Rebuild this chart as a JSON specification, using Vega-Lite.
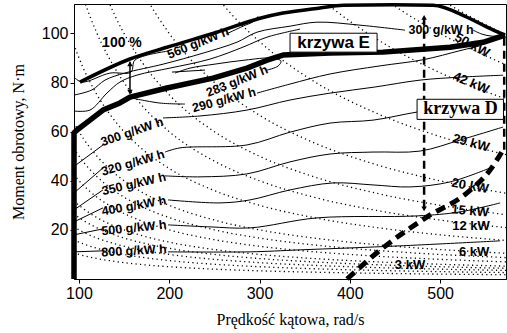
{
"$schema":"https://vega.github.io/schema/vega-lite/v6.json",
"width":432,"height":275,
"autosize":{"type":"none"},
"padding":{"left":74,"top":4,"right":1,"bottom":54},
"config":{"view":{"stroke":"black","strokeWidth":1},
"axis":{"grid":false,"domainColor":"black","tickColor":"black","labelColor":"black","titleColor":"black","labelFont":"Liberation Sans","labelFontSize":16,"titleFont":"Liberation Serif","titleFontSize":16,"titleFontWeight":"normal","tickSize":4}},
"encoding":{
"x":{"field":"w","type":"quantitative","scale":{"domain":[94.5,573],"nice":false,"zero":false},"axis":{"values":[100,200,300,400,500],"title":"Prędkość kątowa, rad/s","titlePadding":10,"labelPadding":2}},
"y":{"field":"t","type":"quantitative","scale":{"domain":[0,112],"nice":false,"zero":false},"axis":{"values":[20,40,60,80,100],"title":"Moment obrotowy, N·m","titlePadding":15,"labelPadding":2}}
},
"layer":[
{"data":{"values":[
{"p":1,"w":94,"t":10.64},{"p":1,"w":105,"t":9.52},{"p":1,"w":120,"t":8.33},{"p":1,"w":140,"t":7.14},{"p":1,"w":170,"t":5.88},{"p":1,"w":200,"t":5},{"p":1,"w":250,"t":4},{"p":1,"w":300,"t":3.33},{"p":1,"w":360,"t":2.78},{"p":1,"w":430,"t":2.33},{"p":1,"w":500,"t":2},{"p":1,"w":573,"t":1.75},
{"p":1.5,"w":94,"t":15.96},{"p":1.5,"w":105,"t":14.29},{"p":1.5,"w":120,"t":12.5},{"p":1.5,"w":140,"t":10.71},{"p":1.5,"w":170,"t":8.82},{"p":1.5,"w":200,"t":7.5},{"p":1.5,"w":250,"t":6},{"p":1.5,"w":300,"t":5},{"p":1.5,"w":360,"t":4.17},{"p":1.5,"w":430,"t":3.49},{"p":1.5,"w":500,"t":3},{"p":1.5,"w":573,"t":2.62},
{"p":2,"w":94,"t":21.28},{"p":2,"w":105,"t":19.05},{"p":2,"w":120,"t":16.67},{"p":2,"w":140,"t":14.29},{"p":2,"w":170,"t":11.76},{"p":2,"w":200,"t":10},{"p":2,"w":250,"t":8},{"p":2,"w":300,"t":6.67},{"p":2,"w":360,"t":5.56},{"p":2,"w":430,"t":4.65},{"p":2,"w":500,"t":4},{"p":2,"w":573,"t":3.49},
{"p":2.5,"w":94,"t":26.6},{"p":2.5,"w":105,"t":23.81},{"p":2.5,"w":120,"t":20.83},{"p":2.5,"w":140,"t":17.86},{"p":2.5,"w":170,"t":14.71},{"p":2.5,"w":200,"t":12.5},{"p":2.5,"w":250,"t":10},{"p":2.5,"w":300,"t":8.33},{"p":2.5,"w":360,"t":6.94},{"p":2.5,"w":430,"t":5.81},{"p":2.5,"w":500,"t":5},{"p":2.5,"w":573,"t":4.36},
{"p":3,"w":94,"t":31.91},{"p":3,"w":105,"t":28.57},{"p":3,"w":120,"t":25},{"p":3,"w":140,"t":21.43},{"p":3,"w":170,"t":17.65},{"p":3,"w":200,"t":15},{"p":3,"w":250,"t":12},{"p":3,"w":300,"t":10},{"p":3,"w":360,"t":8.33},{"p":3,"w":430,"t":6.98},{"p":3,"w":500,"t":6},{"p":3,"w":573,"t":5.24},
{"p":4,"w":94,"t":42.55},{"p":4,"w":105,"t":38.1},{"p":4,"w":120,"t":33.33},{"p":4,"w":140,"t":28.57},{"p":4,"w":170,"t":23.53},{"p":4,"w":200,"t":20},{"p":4,"w":250,"t":16},{"p":4,"w":300,"t":13.33},{"p":4,"w":360,"t":11.11},{"p":4,"w":430,"t":9.3},{"p":4,"w":500,"t":8},{"p":4,"w":573,"t":6.98},
{"p":5,"w":94,"t":53.19},{"p":5,"w":105,"t":47.62},{"p":5,"w":120,"t":41.67},{"p":5,"w":140,"t":35.71},{"p":5,"w":170,"t":29.41},{"p":5,"w":200,"t":25},{"p":5,"w":250,"t":20},{"p":5,"w":300,"t":16.67},{"p":5,"w":360,"t":13.89},{"p":5,"w":430,"t":11.63},{"p":5,"w":500,"t":10},{"p":5,"w":573,"t":8.73},
{"p":6,"w":94,"t":63.83},{"p":6,"w":105,"t":57.14},{"p":6,"w":120,"t":50},{"p":6,"w":140,"t":42.86},{"p":6,"w":170,"t":35.29},{"p":6,"w":200,"t":30},{"p":6,"w":250,"t":24},{"p":6,"w":300,"t":20},{"p":6,"w":360,"t":16.67},{"p":6,"w":430,"t":13.95},{"p":6,"w":500,"t":12},{"p":6,"w":573,"t":10.47},
{"p":9,"w":94,"t":95.74},{"p":9,"w":105,"t":85.71},{"p":9,"w":120,"t":75},{"p":9,"w":140,"t":64.29},{"p":9,"w":170,"t":52.94},{"p":9,"w":200,"t":45},{"p":9,"w":250,"t":36},{"p":9,"w":300,"t":30},{"p":9,"w":360,"t":25},{"p":9,"w":430,"t":20.93},{"p":9,"w":500,"t":18},{"p":9,"w":573,"t":15.71},
{"p":12,"w":94,"t":127.66},{"p":12,"w":105,"t":114.29},{"p":12,"w":120,"t":100},{"p":12,"w":140,"t":85.71},{"p":12,"w":170,"t":70.59},{"p":12,"w":200,"t":60},{"p":12,"w":250,"t":48},{"p":12,"w":300,"t":40},{"p":12,"w":360,"t":33.33},{"p":12,"w":430,"t":27.91},{"p":12,"w":500,"t":24},{"p":12,"w":573,"t":20.94},
{"p":15,"w":105,"t":142.86},{"p":15,"w":120,"t":125},{"p":15,"w":140,"t":107.14},{"p":15,"w":170,"t":88.24},{"p":15,"w":200,"t":75},{"p":15,"w":250,"t":60},{"p":15,"w":300,"t":50},{"p":15,"w":360,"t":41.67},{"p":15,"w":430,"t":34.88},{"p":15,"w":500,"t":30},{"p":15,"w":573,"t":26.18},
{"p":20,"w":140,"t":142.86},{"p":20,"w":170,"t":117.65},{"p":20,"w":200,"t":100},{"p":20,"w":250,"t":80},{"p":20,"w":300,"t":66.67},{"p":20,"w":360,"t":55.56},{"p":20,"w":430,"t":46.51},{"p":20,"w":500,"t":40},{"p":20,"w":573,"t":34.9},
{"p":29,"w":230,"t":126.09},{"p":29,"w":250,"t":116},{"p":29,"w":270,"t":107.41},{"p":29,"w":300,"t":96.67},{"p":29,"w":360,"t":80.56},{"p":29,"w":430,"t":67.44},{"p":29,"w":500,"t":58},{"p":29,"w":573,"t":50.61},
{"p":42,"w":340,"t":123.53},{"p":42,"w":380,"t":110.53},{"p":42,"w":430,"t":97.67},{"p":42,"w":500,"t":84},{"p":42,"w":573,"t":73.3},
{"p":50,"w":410,"t":121.95},{"p":50,"w":450,"t":111.11},{"p":50,"w":500,"t":100},{"p":50,"w":573,"t":87.26},
{"p":57,"w":490,"t":116.33},{"p":57,"w":510,"t":111.76},{"p":57,"w":540,"t":105.56},{"p":57,"w":573,"t":99.48}
]},
"mark":{"type":"line","interpolate":"monotone","clip":true,"stroke":"black","strokeWidth":1.3,"strokeDash":[1.2,3.3]},
"encoding":{"detail":{"field":"p","type":"nominal"}}},
{"data":{"values":[
{"g":"800a","i":0,"w":94.5,"t":11.06},{"g":"800a","i":1,"w":126.6,"t":11.47},
{"g":"800b","i":0,"w":198.6,"t":11.06},{"g":"800b","i":1,"w":289.5,"t":11.06},{"g":"800b","i":2,"w":344.9,"t":11.87},{"g":"800b","i":3,"w":455.7,"t":13.5},{"g":"800b","i":4,"w":566.5,"t":15.54},
{"g":"500a","i":0,"w":94.5,"t":17.98},{"g":"500a","i":1,"w":126.6,"t":20.42},
{"g":"500b","i":0,"w":198.6,"t":22.04},{"g":"500b","i":1,"w":245.1,"t":21.23},{"g":"500b","i":2,"w":289.5,"t":20.82},{"g":"500b","i":3,"w":363.7,"t":24.89},{"g":"500b","i":4,"w":474.5,"t":25.7},{"g":"500b","i":5,"w":522.1,"t":27.33},{"g":"500b","i":6,"w":566.5,"t":30.99},
{"g":"400a","i":0,"w":94.5,"t":23.26},{"g":"400a","i":1,"w":126.6,"t":28.96},
{"g":"400b","i":0,"w":198.6,"t":32.21},{"g":"400b","i":1,"w":256.2,"t":30.99},{"g":"400b","i":2,"w":289.5,"t":32.21},{"g":"400b","i":3,"w":333.8,"t":36.28},{"g":"400b","i":4,"w":381.4,"t":39.12},{"g":"400b","i":5,"w":425.7,"t":38.31},{"g":"400b","i":6,"w":466.7,"t":37.5},{"g":"400b","i":7,"w":511.1,"t":39.54},{"g":"400b","i":8,"w":555.4,"t":45.23},
{"g":"350a","i":0,"w":94.5,"t":28.14},{"g":"350a","i":1,"w":126.6,"t":36.28},
{"g":"350b","i":0,"w":195.3,"t":42},{"g":"350b","i":1,"w":234.1,"t":41.6},{"g":"350b","i":2,"w":286.1,"t":42.8},{"g":"350b","i":3,"w":333.8,"t":47.7},{"g":"350b","i":4,"w":378.1,"t":50.9},{"g":"350b","i":5,"w":425.7,"t":51.7},{"g":"350b","i":6,"w":477.8,"t":52.1},{"g":"350b","i":7,"w":522.1,"t":56.6},{"g":"350b","i":8,"w":569.8,"t":61.9},
{"g":"320a","i":0,"w":94.5,"t":35.05},{"g":"320a","i":1,"w":126.6,"t":45.22},
{"g":"320b","i":0,"w":195.3,"t":51.7},{"g":"320b","i":1,"w":211.9,"t":53.4},{"g":"320b","i":2,"w":286.1,"t":54.6},{"g":"320b","i":3,"w":333.8,"t":59.8},{"g":"320b","i":4,"w":378.1,"t":63.5},{"g":"320b","i":5,"w":425.7,"t":64.7},{"g":"320b","i":6,"w":474.5,"t":68},{"g":"320b","i":7,"w":522.1,"t":70.4},{"g":"320b","i":8,"w":569.8,"t":72.9},
{"g":"300a","i":0,"w":96.7,"t":46.44},{"g":"300a","i":1,"w":126.6,"t":54.58},
{"g":"300b","i":0,"w":193.1,"t":65.6},{"g":"300b","i":1,"w":234.1,"t":66.4},{"g":"300b","i":2,"w":286.1,"t":68.8},{"g":"300b","i":3,"w":333.8,"t":72.9},{"g":"300b","i":4,"w":378.1,"t":75.7},{"g":"300b","i":5,"w":428,"t":78.2},{"g":"300b","i":6,"w":477.8,"t":81},{"g":"300b","i":7,"w":522.1,"t":82.2},{"g":"300b","i":8,"w":569.8,"t":83},
{"g":"290a","i":0,"w":158.7,"t":73.69},{"g":"290a","i":1,"w":189.7,"t":71.66},{"g":"290a","i":2,"w":217.4,"t":71.25},
{"g":"290b","i":0,"w":297.2,"t":75.7},{"g":"290b","i":1,"w":333.8,"t":79.4},{"g":"290b","i":2,"w":378.1,"t":83.5},{"g":"290b","i":3,"w":433.5,"t":86.8},{"g":"290b","i":4,"w":481.2,"t":89.3},{"g":"290b","i":5,"w":522.1,"t":93},{"g":"290b","i":6,"w":544.3,"t":95},
{"g":"283a","i":0,"w":203,"t":84.27},{"g":"283a","i":1,"w":239.6,"t":85.09},
{"g":"283b","i":0,"w":308.3,"t":85.08},{"g":"283b","i":1,"w":320.5,"t":86.71},{"g":"283b","i":2,"w":323.8,"t":88.74},{"g":"283b","i":3,"w":313.8,"t":89.96},{"g":"283b","i":4,"w":283.9,"t":89.15},{"g":"283b","i":5,"w":250.7,"t":87.52},{"g":"283b","i":6,"w":223,"t":85.89},{"g":"283b","i":7,"w":206.4,"t":83.86},
{"g":"u1a","i":0,"w":94.5,"t":74.9},{"g":"u1a","i":1,"w":114.4,"t":77},{"g":"u1a","i":2,"w":128.8,"t":81},{"g":"u1a","i":3,"w":151,"t":83.9},{"g":"u1a","i":4,"w":193.1,"t":87.5},{"g":"u1a","i":5,"w":237.4,"t":91.99},{"g":"u1a","i":6,"w":275.1,"t":96.47},{"g":"u1a","i":7,"w":297.2,"t":100.53},{"g":"u1a","i":8,"w":333.8,"t":102.97},{"g":"u1a","i":9,"w":363.7,"t":104.6},{"g":"u1a","i":10,"w":411.3,"t":103.38},{"g":"u1a","i":11,"w":461.2,"t":101.35},
{"g":"u1b","i":0,"w":536.6,"t":101.35},{"g":"u1b","i":1,"w":546.5,"t":99.72},{"g":"u1b","i":2,"w":557.6,"t":98.91},{"g":"u1b","i":3,"w":569.8,"t":99.32},
{"g":"u2","i":0,"w":94.5,"t":68.41},{"g":"u2","i":1,"w":112.2,"t":68.81},{"g":"u2","i":2,"w":131,"t":75.73},{"g":"u2","i":3,"w":145.4,"t":80.2},{"g":"u2","i":4,"w":164.3,"t":83.05},{"g":"u2","i":5,"w":200.8,"t":85.89},{"g":"u2","i":6,"w":245.1,"t":89.56},{"g":"u2","i":7,"w":281.7,"t":94.44},{"g":"u2","i":8,"w":308.3,"t":98.5},{"g":"u2","i":9,"w":344.9,"t":101.76},
{"g":"560a","i":0,"w":94.5,"t":82.23},{"g":"560a","i":1,"w":103.3,"t":80.2},{"g":"560a","i":2,"w":134.3,"t":83.86},{"g":"560a","i":3,"w":157.6,"t":84.27},{"g":"560a","i":4,"w":162,"t":89.15},{"g":"560a","i":5,"w":198.6,"t":92.81},
{"g":"560b","i":0,"w":262.9,"t":99.72},{"g":"560b","i":1,"w":281.7,"t":102.97},{"g":"560b","i":2,"w":293.9,"t":105},{"g":"560b","i":3,"w":298.3,"t":107}
]},
"mark":{"type":"line","interpolate":"catmull-rom","clip":true,"stroke":"black","strokeWidth":1},
"encoding":{"detail":{"field":"g","type":"nominal"},"order":{"field":"i","type":"quantitative"}}},
{"data":{"values":[
{"i":0,"w":101.1,"t":80.2},{"i":1,"w":156.5,"t":89.6},{"i":2,"w":197.5,"t":94.4},{"i":3,"w":252.9,"t":100.5},{"i":4,"w":300.5,"t":106.2},{"i":5,"w":326,"t":108.3},{"i":6,"w":367,"t":110.4},{"i":7,"w":392.5,"t":111.5},{"i":8,"w":448,"t":111.7},{"i":9,"w":492.2,"t":111.5},{"i":10,"w":529.9,"t":106.6},{"i":11,"w":552,"t":102.6},{"i":12,"w":572,"t":99.3}
]},
"mark":{"type":"line","interpolate":"monotone","stroke":"black","strokeWidth":3.5},
"encoding":{"order":{"field":"i","type":"quantitative"}}},
{"data":{"values":[
{"i":0,"w":94.5,"t":0},{"i":1,"w":94.5,"t":59.5},{"i":2,"w":97.8,"t":60.7},{"i":3,"w":112.2,"t":64.7},{"i":4,"w":126.6,"t":68.8},{"i":5,"w":145.4,"t":71.7},{"i":6,"w":156.5,"t":74.1},{"i":7,"w":197.5,"t":77.8},{"i":8,"w":248.5,"t":81.8},{"i":9,"w":286.1,"t":85.9},{"i":10,"w":308.3,"t":89.1},{"i":11,"w":326,"t":91.2},{"i":12,"w":378.1,"t":92},{"i":13,"w":436.8,"t":92.4},{"i":14,"w":511.1,"t":94.4},{"i":15,"w":547.6,"t":96.4},{"i":16,"w":572,"t":99.3}
]},
"mark":{"type":"line","interpolate":"linear","stroke":"black","strokeWidth":5.5,"strokeJoin":"round"},
"encoding":{"order":{"field":"i","type":"quantitative"}}},
{"data":{"values":[
{"i":0,"w":396.9,"t":0},{"i":1,"w":436.8,"t":12.7},{"i":2,"w":485.6,"t":25.3},{"i":3,"w":529.9,"t":35.1},{"i":4,"w":555.4,"t":44.4},{"i":5,"w":569.8,"t":52.6}
]},
"mark":{"type":"line","interpolate":"monotone","stroke":"black","strokeWidth":5,"strokeDash":[10,6]},
"encoding":{"order":{"field":"i","type":"quantitative"}}},
{"data":{"values":[
{"w":482.3,"t":29,"t2":106},{"w":571,"t":52.6,"t2":99.3}
]},
"mark":{"type":"rule","stroke":"black","strokeWidth":2.5,"strokeDash":[8,5]},
"encoding":{"y2":{"field":"t2"}}},
{"data":{"values":[{"w":156.5,"t":75.5,"t2":88.5}]},
"mark":{"type":"rule","stroke":"black","strokeWidth":1.5},
"encoding":{"y2":{"field":"t2"}}},
{"data":{"values":[{"w":156.5,"t":87.6},{"w":482.3,"t":106.6}]},
"mark":{"type":"point","shape":"triangle-up","filled":true,"color":"black","size":30,"opacity":1},
"encoding":{}},
{"data":{"values":[{"w":156.5,"t":76.1},{"w":482.3,"t":28.6}]},
"mark":{"type":"point","shape":"triangle-down","filled":true,"color":"black","size":30,"opacity":1},
"encoding":{}},
{"data":{"values":[{"w":333.8,"w2":430.2,"t":92.4,"t2":100.1},{"w":474.5,"w2":570.2,"t":65,"t2":73.2}]},
"mark":{"type":"rect","fill":"white","stroke":"black","strokeWidth":1},
"encoding":{"x2":{"field":"w2"},"y2":{"field":"t2"}}},
{"data":{"values":[{"s":"krzywa E","w":382,"t":96.3}]},
"mark":{"type":"text","font":"Liberation Sans","fontWeight":"bold","fontSize":17,"align":"center","baseline":"middle","color":"black"},
"encoding":{"text":{"field":"s"}}},
{"data":{"values":[{"s":"krzywa D","w":522.7,"t":69.1}]},
"mark":{"type":"text","font":"Liberation Serif","fontWeight":"bold","fontSize":18,"align":"center","baseline":"middle","color":"black"},
"encoding":{"text":{"field":"s"}}},
{"data":{"values":[{"s":"50 kW","w":535.5,"t":95.2}]},
"mark":{"type":"text","font":"Liberation Sans","fontWeight":"bold","fontSize":13,"align":"center","baseline":"middle","color":"black","angle":28},
"encoding":{"text":{"field":"s"}}},
{"data":{"values":[{"s":"42 kW","w":534.3,"t":79.8}]},
"mark":{"type":"text","font":"Liberation Sans","fontWeight":"bold","fontSize":13,"align":"center","baseline":"middle","color":"black","angle":23},
"encoding":{"text":{"field":"s"}}},
{"data":{"values":[{"s":"29 kW","w":534.3,"t":55.4}]},
"mark":{"type":"text","font":"Liberation Sans","fontWeight":"bold","fontSize":13,"align":"center","baseline":"middle","color":"black","angle":15},
"encoding":{"text":{"field":"s"}}},
{"data":{"values":[{"s":"20 kW","w":533.2,"t":37.9}]},
"mark":{"type":"text","font":"Liberation Sans","fontWeight":"bold","fontSize":13,"align":"center","baseline":"middle","color":"black","angle":10},
"encoding":{"text":{"field":"s"}}},
{"data":{"values":[{"s":"15 kW","w":533.2,"t":27.7}]},
"mark":{"type":"text","font":"Liberation Sans","fontWeight":"bold","fontSize":13,"align":"center","baseline":"middle","color":"black","angle":5},
"encoding":{"text":{"field":"s"}}},
{"data":{"values":[{"s":"12 kW","w":534.3,"t":21.6},{"s":"6 kW","w":537.7,"t":11.1},{"s":"3 kW","w":466.7,"t":5.8}]},
"mark":{"type":"text","font":"Liberation Sans","fontWeight":"bold","fontSize":13,"align":"center","baseline":"middle","color":"black"},
"encoding":{"text":{"field":"s"}}},
{"data":{"values":[{"s":"300 g/kW h","w":158.7,"t":59.9}]},
"mark":{"type":"text","font":"Liberation Sans","fontWeight":"bold","fontSize":12.5,"align":"center","baseline":"middle","color":"black","angle":341},
"encoding":{"text":{"field":"s"}}},
{"data":{"values":[{"s":"320 g/kW h","w":159.8,"t":47.3}]},
"mark":{"type":"text","font":"Liberation Sans","fontWeight":"bold","fontSize":12.5,"align":"center","baseline":"middle","color":"black","angle":344},
"encoding":{"text":{"field":"s"}}},
{"data":{"values":[{"s":"350 g/kW h","w":160.9,"t":38.7}]},
"mark":{"type":"text","font":"Liberation Sans","fontWeight":"bold","fontSize":12.5,"align":"center","baseline":"middle","color":"black","angle":347},
"encoding":{"text":{"field":"s"}}},
{"data":{"values":[{"s":"400 g/kW h","w":160.9,"t":29.8}]},
"mark":{"type":"text","font":"Liberation Sans","fontWeight":"bold","fontSize":12.5,"align":"center","baseline":"middle","color":"black","angle":350},
"encoding":{"text":{"field":"s"}}},
{"data":{"values":[{"s":"500 g/kW h","w":160.9,"t":20.8}]},
"mark":{"type":"text","font":"Liberation Sans","fontWeight":"bold","fontSize":12.5,"align":"center","baseline":"middle","color":"black","angle":354},
"encoding":{"text":{"field":"s"}}},
{"data":{"values":[{"s":"800 g/kW h","w":160.9,"t":11.5}]},
"mark":{"type":"text","font":"Liberation Sans","fontWeight":"bold","fontSize":12.5,"align":"center","baseline":"middle","color":"black","angle":357},
"encoding":{"text":{"field":"s"}}},
{"data":{"values":[{"s":"290 g/kW h","w":260.7,"t":72.9}]},
"mark":{"type":"text","font":"Liberation Sans","fontWeight":"bold","fontSize":12.5,"align":"center","baseline":"middle","color":"black","angle":345},
"encoding":{"text":{"field":"s"}}},
{"data":{"values":[{"s":"283 g/kW h","w":275.1,"t":80.6},{"s":"560 g/kW h","w":231.9,"t":96.1}]},
"mark":{"type":"text","font":"Liberation Sans","fontWeight":"bold","fontSize":12.5,"align":"center","baseline":"middle","color":"black","angle":338},
"encoding":{"text":{"field":"s"}}},
{"data":{"values":[{"s":"300 g/kW h","w":501.1,"t":101.3}]},
"mark":{"type":"text","font":"Liberation Sans","fontWeight":"bold","fontSize":12.5,"align":"center","baseline":"middle","color":"black"},
"encoding":{"text":{"field":"s"}}},
{"data":{"values":[{"s":"100 %","w":147.6,"t":96.1}]},
"mark":{"type":"text","font":"Liberation Sans","fontWeight":"bold","fontSize":14,"align":"center","baseline":"middle","color":"black"},
"encoding":{"text":{"field":"s"}}}
]
}
